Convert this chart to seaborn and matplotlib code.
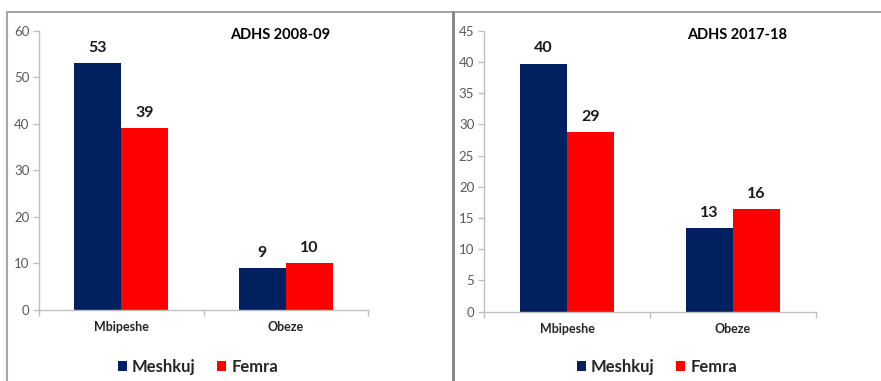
import matplotlib
matplotlib.use("Agg")
import matplotlib.pyplot as plt
from matplotlib.patches import Patch
from matplotlib.lines import Line2D
import pandas as pd
import seaborn as sns

# Survey data: underweight / obese shares by sex
categories = ["Mbipeshe", "Obeze"]
sexes = ["Meshkuj", "Femra"]
men_2008 = [53, 9]
women_2008 = [39, 10]
men_2017 = [39.7, 13.4]
women_2017 = [28.8, 16.4]
titles = ["ADHS 2008-09", "ADHS 2017-18"]
y_limits = [60, 45]
y_steps = [10, 5]

palette = {"Meshkuj": "#002060", "Femra": "#FF0000"}

sns.set_theme(style="white")
plt.rcParams["font.family"] = ["Lato", "DejaVu Sans"]

W, H = 881, 381
fig = plt.figure(figsize=(W / 100, H / 100), dpi=100)


def fx(px):
    return px / W


def fy(py):
    return 1 - py / H


# panel frames
frame_kw = dict(transform=fig.transFigure, figure=fig)
fig.lines.append(Line2D([fx(7), 1], [fy(11.5), fy(11.5)], color="#a6a6a6", lw=1.5, **frame_kw))
fig.lines.append(Line2D([fx(7), fx(7)], [fy(11.5), 0], color="#a6a6a6", lw=1.5, **frame_kw))
fig.lines.append(Line2D([fx(452.7), fx(452.7)], [fy(11.5), 0], color="#7f7f7f", lw=2.0, **frame_kw))

# axes boxes in pixel coordinates: left, right, top(y=max), bottom(y=0)
boxes = [(39, 368, 30.7, 310), (484, 816, 30.7, 311.7)]
title_pos = [(280, 35), (737, 35)]
legend_x = [198, 657]

series = [(men_2008, women_2008), (men_2017, women_2017)]

for i, (men, women) in enumerate(series):
    x0, x1, top, bottom = boxes[i]
    ax = fig.add_axes([fx(x0), fy(bottom), fx(x1) - fx(x0), fy(top) - fy(bottom)])
    df = pd.DataFrame({
        "kategoria": categories * 2,
        "gjinia": [sexes[0]] * len(categories) + [sexes[1]] * len(categories),
        "vlera": list(men) + list(women),
    })
    sns.barplot(data=df, x="kategoria", y="vlera", hue="gjinia", hue_order=sexes,
                palette=palette, width=0.57, saturation=1, ax=ax, legend=False,
                edgecolor="none", linewidth=0)
    ax.set_xlim(-0.5, 1.5)
    ax.set_ylim(0, y_limits[i])
    ax.set_yticks(range(0, y_limits[i] + 1, y_steps[i]))
    ax.set_xlabel("")
    ax.set_ylabel("")
    for s in ["top", "right"]:
        ax.spines[s].set_visible(False)
    for s in ["left", "bottom"]:
        ax.spines[s].set_color("#bfbfbf")
        ax.spines[s].set_linewidth(1.0)
    ax.tick_params(axis="y", which="major", length=4, width=1.0, color="#bfbfbf",
                   labelsize=9.5, labelcolor="#595959", pad=3, left=True)
    ax.tick_params(axis="x", which="major", length=0, labelsize=9, pad=8)
    ax.set_xticks([-0.5, 0.5, 1.5], minor=True)
    ax.tick_params(axis="x", which="minor", length=4, width=1.0, color="#bfbfbf", bottom=True)
    for lab in ax.get_xticklabels():
        lab.set_fontweight("bold")
        lab.set_color("#262626")

    for cont in ax.containers:
        for bar, v in zip(cont.patches, cont.datavalues):
            ax.annotate(f"{v:.0f}", (bar.get_x() + bar.get_width() / 2, bar.get_height()),
                        xytext=(0, 6), textcoords="offset points", ha="center", va="bottom",
                        fontsize=11.5, fontweight="bold", color="#1a1a1a")

    tx, ty = title_pos[i]
    fig.text(fx(tx), fy(ty), titles[i], ha="center", va="center",
             fontsize=10.5, fontweight="bold", color="#000000")

    handles = [Patch(facecolor=palette[s], edgecolor="none", label=s) for s in sexes]
    fig.legend(handles=handles, loc="center", bbox_to_anchor=(fx(legend_x[i]), fy(367)),
               ncol=2, frameon=False, handlelength=0.55, handleheight=0.6,
               handletextpad=0.3, columnspacing=1.3,
               prop={"size": 12, "weight": "bold"})

fig.savefig("out.png", dpi=100, facecolor="white")
